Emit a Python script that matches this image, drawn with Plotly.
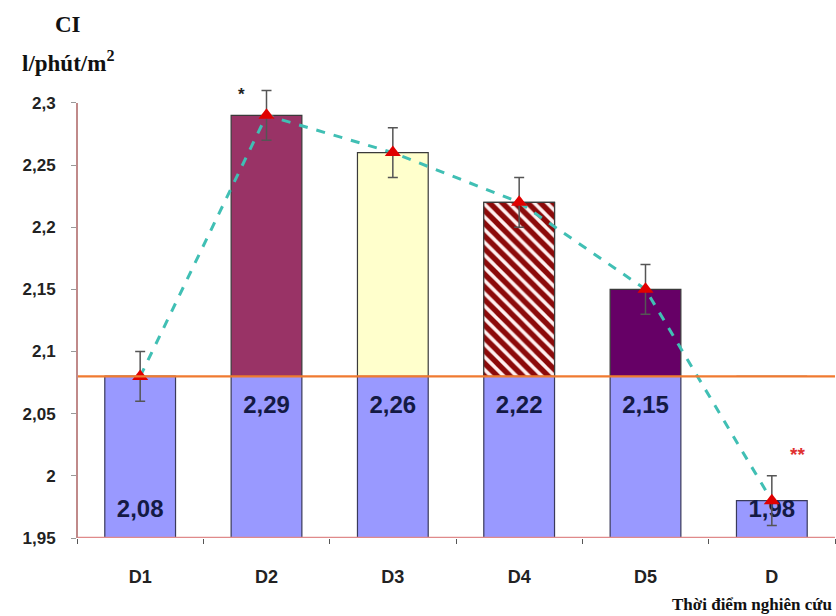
import plotly.graph_objects as go

# Cardiac index at each measurement time
categories = ["D1", "D2", "D3", "D4", "D5", "D"]
ci_values = [2.08, 2.29, 2.26, 2.22, 2.15, 1.98]
ci_errors = [0.02, 0.02, 0.02, 0.02, 0.02, 0.02]
value_labels = ["2,08", "2,29", "2,26", "2,22", "2,15", "1,98"]
baseline = 2.08
y_tick_vals = [1.95, 2.0, 2.05, 2.1, 2.15, 2.2, 2.25, 2.3]
y_tick_text = ["1,95", "2", "2,05", "2,1", "2,15", "2,2", "2,25", "2,3"]

y_min, y_axis_top, y_view_top = 1.95, 2.3, 2.316

upper_colors = ["#993366", "#993366", "#ffffcc", "#ffffff", "#660066", "#9999ff"]
upper_striped = [False, False, False, True, False, False]

W, H = 836, 616
M_L, M_R, M_T, M_B = 77, 1, 83, 78
plot_w = W - M_L - M_R
plot_h = H - M_T - M_B


def px_x(p):
    return (p - M_L) / plot_w


def px_y(p):
    return (H - M_B - p) / plot_h


fig = go.Figure()

# lower (blue) part of each bar, up to the reference level
lower_h = [min(v, baseline) - y_min for v in ci_values]
fig.add_trace(go.Bar(
    x=categories, y=lower_h, base=[y_min] * len(categories),
    width=0.56, marker=dict(color="#9999ff", line=dict(color="#3a3a5a", width=1.2)),
    hoverinfo="skip", showlegend=False,
))

# upper part above the reference level, solid fills
upper_h = [max(v - baseline, 0) for v in ci_values]
fig.add_trace(go.Bar(
    x=categories, y=upper_h, base=[baseline] * len(categories),
    width=0.56,
    marker=dict(color=upper_colors, line=dict(color="#3a3a3a", width=1.2)),
    hoverinfo="skip", showlegend=False,
))

# upper part with diagonal red hatching
striped_x = [c for c, s in zip(categories, upper_striped) if s]
striped_h = [h for h, s in zip(upper_h, upper_striped) if s]
fig.add_trace(go.Bar(
    x=striped_x, y=striped_h, base=[baseline] * len(striped_x),
    width=0.56,
    marker=dict(
        color="#ffffff",
        line=dict(color="#3a3a3a", width=1.2),
        pattern=dict(shape="\\", fillmode="overlay", fgcolor="#8c0a0a", fgopacity=1,
                     bgcolor="#fff0f0", size=9, solidity=0.6),
    ),
    hoverinfo="skip", showlegend=False,
))

# value labels inside the blue part
label_y = [baseline - 0.0245 if v > baseline else y_min + 0.022 for v in ci_values]
fig.add_trace(go.Scatter(
    x=categories, y=label_y, mode="text", text=value_labels,
    textfont=dict(family="Arial, Liberation Sans", size=24, color="#141a44", weight="bold"),
    hoverinfo="skip", showlegend=False,
))

# mean trend with error bars
fig.add_trace(go.Scatter(
    x=categories, y=ci_values, mode="lines+markers",
    line=dict(color="#40bfb4", width=3, dash="dash"),
    marker=dict(symbol="triangle-up", size=14, color="#e00000"),
    error_y=dict(type="data", array=ci_errors, color="#555555", thickness=1.5, width=5),
    showlegend=False,
))

# reference level line and axis lines
fig.add_hline(y=baseline, line=dict(color="#f07a30", width=2.2), layer="above")
fig.add_hline(y=y_min, line=dict(color="#e08a8a", width=2.5), layer="above")
fig.add_shape(type="line", xref="paper", yref="y", x0=0, x1=0, y0=y_min, y1=y_axis_top,
              line=dict(color="#c08a8a", width=2), layer="above")

fig.add_annotation(x=0.8, xref="x", y=2.3064, yref="y", text="*",
                   showarrow=False, font=dict(family="Arial", size=17, color="#222222", weight="bold"))
fig.add_annotation(x=5.2, xref="x", y=2.0168, yref="y", text="**",
                   showarrow=False, font=dict(family="Arial", size=19, color="#e03030", weight="bold"))

serif = "Liberation Serif, Times New Roman"
fig.add_annotation(x=px_x(68), xref="paper", xanchor="center", y=px_y(24), yref="paper",
                   yanchor="middle", text="CI", showarrow=False,
                   font=dict(family=serif, size=23, color="#111111", weight="bold"))
fig.add_annotation(x=px_x(68), xref="paper", xanchor="center", y=px_y(62), yref="paper",
                   yanchor="middle", text="l/phút/m<sup>2</sup>", showarrow=False,
                   font=dict(family=serif, size=23, color="#111111", weight="bold"))
fig.add_annotation(x=px_x(834), xref="paper", xanchor="right", y=px_y(604), yref="paper",
                   yanchor="middle", text="Thời điểm nghiên cứu", showarrow=False,
                   font=dict(family=serif, size=17, color="#111111", weight="bold"))

fig.update_layout(
    width=W, height=H,
    margin=dict(l=M_L, r=M_R, t=M_T, b=M_B),
    paper_bgcolor="white", plot_bgcolor="white",
    barmode="overlay",
    font=dict(family="Arial, Liberation Sans", color="#222222"),
)
fig.update_xaxes(
    type="category", categoryorder="array", categoryarray=categories, range=[-0.5, 5.5],
    showline=False, ticks="outside", tickson="boundaries", ticklen=5,
    tickcolor="#555555", ticklabelstandoff=26,
    tickfont=dict(size=18, family="Arial", color="#222222", weight="bold"),
    showgrid=False, zeroline=False,
)
fig.update_yaxes(
    range=[y_min, y_view_top], tickvals=y_tick_vals, ticktext=y_tick_text,
    showline=False,
    ticks="outside", ticklen=5, tickcolor="#999999", ticklabelstandoff=12,
    tickfont=dict(size=17, family="Arial", color="#222222", weight="bold"),
    showgrid=False, zeroline=False,
)

fig.write_html("out.html")
